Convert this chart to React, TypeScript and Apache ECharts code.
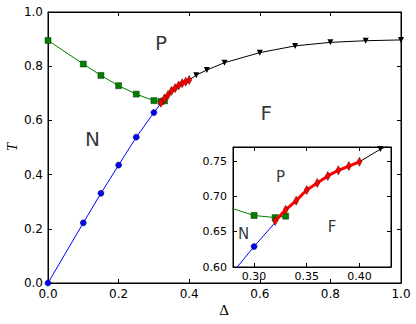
import React, { useEffect, useRef } from "react";
import * as echarts from "echarts";

// N–P boundary (green squares)
const npBoundary: [number, number][] = [
  [0.0, 0.895], [0.1, 0.808], [0.15, 0.766], [0.2, 0.728], [0.25, 0.697],
  [0.3, 0.673], [0.32, 0.670], [0.33, 0.672],
];
// N–F boundary (blue circles)
const nfBoundary: [number, number][] = [
  [0.0, 0.0], [0.1, 0.222], [0.15, 0.331], [0.2, 0.435], [0.25, 0.538],
  [0.3, 0.629], [0.32, 0.663],
];
// first-order segment (red diamonds)
const firstOrder: [number, number][] = [
  [0.32, 0.665], [0.33, 0.681], [0.34, 0.694], [0.35, 0.709], [0.36, 0.719],
  [0.37, 0.729], [0.38, 0.737], [0.39, 0.743], [0.40, 0.749],
];
// P–F boundary (black down-triangles)
const pfBoundary: [number, number][] = [
  [0.40, 0.749], [0.42, 0.767], [0.45, 0.786], [0.5, 0.813], [0.6, 0.850],
  [0.7, 0.875], [0.8, 0.888], [0.9, 0.894], [1.0, 0.897],
];

const mainRegionLabels = [
  { name: "P", value: [0.32, 0.886] },
  { name: "N", value: [0.126, 0.531] },
  { name: "F", value: [0.618, 0.627] },
];
const insetRegionLabels = [
  { name: "P", value: [0.325, 0.728] },
  { name: "N", value: [0.29, 0.6466] },
  { name: "F", value: [0.374, 0.6565] },
];

const insetXTicks = [0.3, 0.35, 0.4];
const insetYTicks = [0.6, 0.65, 0.7, 0.75];

const FONT = "DejaVu Sans";

function seriesFor(grid: number) {
  const axisIdx = grid === 0 ? 0 : 2;
  const common = {
    xAxisIndex: axisIdx,
    yAxisIndex: axisIdx,
    clip: true,
    silent: true,
  };
  const noFirst = (d: [number, number][]) =>
    d.map((p, i) => (i === 0 ? { value: p, symbol: "none" } : { value: p }));
  const noLast = (d: [number, number][]) =>
    d.map((p, i) => (i === d.length - 1 ? { value: p, symbol: "none" } : { value: p }));
  return [
    {
      ...common,
      type: "line",
      data: npBoundary,
      symbol: "rect",
      symbolSize: 6,
      lineStyle: { color: "#008000", width: 1 },
      itemStyle: { color: "#008000", borderColor: "#003300", borderWidth: 0.5 },
      z: 3,
    },
    {
      ...common,
      type: "line",
      data: noLast(nfBoundary),
      symbol: "circle",
      symbolSize: 6,
      lineStyle: { color: "#0000ff", width: 1 },
      itemStyle: { color: "#0000ff", borderColor: "#000033", borderWidth: 0.5 },
      z: 3,
    },
    {
      ...common,
      type: "line",
      data: noFirst(pfBoundary),
      symbol: "triangle",
      symbolRotate: 180,
      symbolSize: 6,
      lineStyle: { color: "#000", width: 1 },
      itemStyle: { color: "#000" },
      z: 3,
    },
    {
      ...common,
      type: "line",
      data: firstOrder,
      symbol: "diamond",
      symbolSize: [5, 9],
      lineStyle: { color: "#ff0000", width: 3 },
      itemStyle: { color: "#ff0000", borderColor: "#550000", borderWidth: 0.5 },
      z: 4,
    },
    {
      ...common,
      type: "scatter",
      data: grid === 0 ? mainRegionLabels : insetRegionLabels,
      symbolSize: 0,
      label: {
        show: true,
        position: "inside",
        formatter: (p: any) => p.name,
        fontSize: grid === 0 ? 20 : 15,
        fontFamily: FONT,
        color: "#000",
      },
      z: 5,
    },
  ];
}

export default function App() {
  const ref = useRef<HTMLDivElement>(null);
  useEffect(() => {
    if (!ref.current) return;
    const chart = echarts.init(ref.current, null, { renderer: "svg" });
    const axisLine = () => ({ show: true, onZero: false, lineStyle: { color: "#000", width: 1 } });
    const tick = (extra: any = {}) => ({ show: true, inside: true, length: 4, lineStyle: { color: "#000", width: 1 }, ...extra });
    const mainLabel = (fmt: number) => ({
      fontSize: 12,
      fontFamily: FONT,
      color: "#000",
      formatter: (v: number) => v.toFixed(fmt),
    });
    chart.setOption({
      animation: false,
      backgroundColor: "#fff",
      grid: [
        { left: 48, top: 12, right: 15, bottom: 41, show: true, borderColor: "#000", borderWidth: 1, backgroundColor: "transparent" },
        { left: 233, top: 147, width: 158, height: 120, show: true, backgroundColor: "#fff", borderColor: "#000", borderWidth: 1 },
      ],
      xAxis: [
        {
          gridIndex: 0, type: "value", min: 0, max: 1, interval: 0.2, position: "bottom",
          axisLine: axisLine(), axisTick: tick(), splitLine: { show: false },
          axisLabel: { ...mainLabel(1), margin: 5 },
        },
        {
          gridIndex: 0, type: "value", min: 0, max: 1, interval: 0.2, position: "top",
          axisLine: axisLine(), axisTick: tick(), splitLine: { show: false }, axisLabel: { show: false },
        },
        {
          gridIndex: 1, type: "value", min: 0.28, max: 0.43, position: "bottom",
          axisLine: axisLine(), axisTick: tick({ customValues: insetXTicks }), splitLine: { show: false },
          axisLabel: { ...mainLabel(2), fontSize: 11, margin: 4, customValues: insetXTicks },
        },
        {
          gridIndex: 1, type: "value", min: 0.28, max: 0.43, position: "top",
          axisLine: axisLine(), axisTick: tick({ customValues: insetXTicks }), splitLine: { show: false },
          axisLabel: { show: false },
        },
      ],
      yAxis: [
        {
          gridIndex: 0, type: "value", min: 0, max: 1, interval: 0.2, position: "left",
          axisLine: axisLine(), axisTick: tick(), splitLine: { show: false },
          axisLabel: { ...mainLabel(1), margin: 5 },
        },
        {
          gridIndex: 0, type: "value", min: 0, max: 1, interval: 0.2, position: "right",
          axisLine: axisLine(), axisTick: tick(), splitLine: { show: false }, axisLabel: { show: false },
        },
        {
          gridIndex: 1, type: "value", min: 0.6, max: 0.77, position: "left",
          axisLine: axisLine(), axisTick: tick({ customValues: insetYTicks }), splitLine: { show: false },
          axisLabel: { ...mainLabel(2), fontSize: 11, margin: 6, customValues: insetYTicks },
        },
        {
          gridIndex: 1, type: "value", min: 0.6, max: 0.77, position: "right",
          axisLine: axisLine(), axisTick: tick({ customValues: insetYTicks }), splitLine: { show: false },
          axisLabel: { show: false },
        },
      ],
      graphic: [
        {
          type: "text", x: 224, y: 310,
          style: { text: "Δ", fontSize: 15, fontFamily: "Liberation Serif", fill: "#000", textAlign: "center", textVerticalAlign: "middle" },
        },
        {
          type: "text", x: 12, y: 147, rotation: Math.PI / 2,
          style: { text: "T", fontSize: 15, fontStyle: "italic", fontFamily: "Liberation Serif", fill: "#000", textAlign: "center", textVerticalAlign: "middle" },
        },
      ],
      series: [...seriesFor(0), ...seriesFor(1).map((s: any) => ({ ...s, z: (s.z ?? 2) + 10 }))],
    });
    return () => chart.dispose();
  }, []);
  return <div ref={ref} style={{ position: "fixed", left: 0, top: 0, width: 416, height: 324 }} />;
}
